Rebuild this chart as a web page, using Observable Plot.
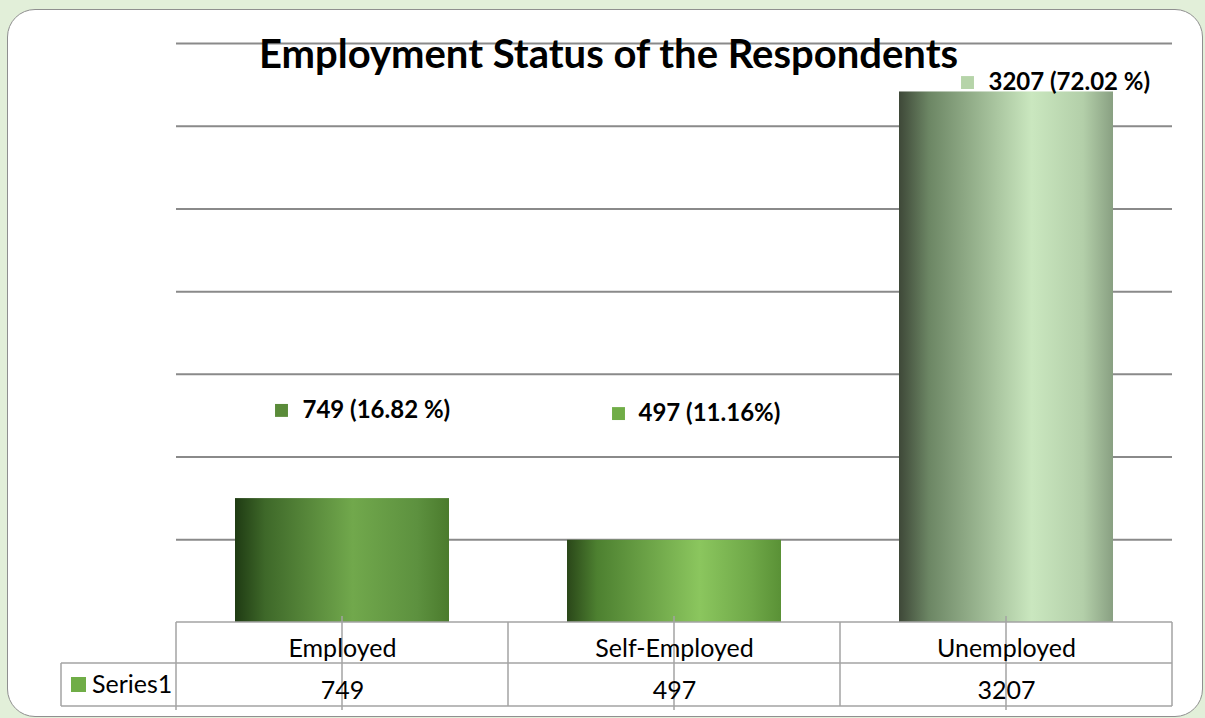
<!DOCTYPE html>
<html><head><meta charset="utf-8">
<script src="https://cdn.jsdelivr.net/npm/d3@7"></script>
<script src="https://cdn.jsdelivr.net/npm/@observablehq/plot@0.6"></script>
<style>
html,body{margin:0;padding:0;background:#e2efd9;width:1205px;height:718px;overflow:hidden;}
#panel{position:absolute;left:7px;top:9px;width:1196px;height:708px;background:#fff;border:1.5px solid #8f8f8f;border-radius:28px;box-sizing:border-box;}
#chart{position:absolute;left:0;top:0;}
</style></head><body><div id="panel"></div><div id="chart"></div>
<script>
const title = "Employment Status of the Respondents";
const categories = ["Employed", "Self-Employed", "Unemployed"];
const counts = [749, 497, 3207];
const percentLabels = ["749 (16.82 %)", "497 (11.16%)", "3207 (72.02 %)"];
const yTicks = [0, 500, 1000, 1500, 2000, 2500, 3000, 3500];
const seriesName = "Series1";

// styles (kept apart from data)
const gradientStops = [
  [["0%","#1f3b13"],["14%","#3e6829"],["55%","#71a84c"],["85%","#5d913f"],["100%","#4b7b2d"]],
  [["0%","#2a4719"],["14%","#4d8030"],["62%","#8bc65e"],["86%","#6fa848"],["100%","#5a9136"]],
  [["0%","#3e4838"],["14%","#6c8664"],["62%","#cae7bf"],["86%","#b3cfa9"],["100%","#89a082"]]
];
const keyColors = ["#5a8b39", "#70ad47", "#b6d4a9"];
const labelLayout = [ // [yValue, square dx, text dx]
  [1282, -61, -40],
  [1263, -56, -36],
  [3264, -39, -18]
];

const rows = categories.map((c, i) => ({category: c, count: counts[i], label: percentLabels[i], i}));
const FONT = "Lato, 'Open Sans', sans-serif";

function defsMark() {
  const g = d3.create("svg:g");
  const defs = g.append("defs");
  gradientStops.forEach((stops, i) => {
    const lg = defs.append("linearGradient").attr("id", "barGrad" + i)
      .attr("x1", "0%").attr("x2", "100%").attr("y1", "0%").attr("y2", "0%");
    stops.forEach(([o, c]) => lg.append("stop").attr("offset", o).attr("stop-color", c));
  });
  return g.node();
}

function tableMark(index, scales, values, dimensions) {
  const {marginLeft, marginRight, width} = dimensions;
  const x = scales.x, y = scales.y;
  const step = (width - marginLeft - marginRight) / categories.length;
  const bw = typeof x.bandwidth === "function" ? x.bandwidth() : step * 0.645;
  const y0 = y(0), r1 = y0 + 41, r2 = y0 + 84;
  const left = marginLeft, right = width - marginRight, legLeft = marginLeft - 115;
  const g = d3.create("svg:g");
  const lines = g.append("g").attr("stroke", "#a3a3a3").attr("stroke-width", 1.5).attr("fill", "none");
  const L = (x1, y1, x2, y2) => lines.append("line").attr("x1", x1).attr("y1", y1).attr("x2", x2).attr("y2", y2);
  L(left, y0, right, y0);
  L(legLeft, r1, right, r1);
  L(legLeft, r2, right, r2);
  L(legLeft, r1, legLeft, r2);
  for (let k = 0; k <= categories.length; k++) {
    const xb = left + k * step;
    L(xb, y0, xb, r2 + (k === 0 ? 4 : 0));
  }
  categories.forEach(c => {
    const xc = x(c) + bw / 2;
    L(xc, y0 - 6, xc, r2 + 4);
  });
  g.append("rect").attr("x", legLeft + 10).attr("y", r1 + 14).attr("width", 15).attr("height", 15).attr("fill", "#70ad47");
  g.append("text").attr("x", legLeft + 31).attr("y", (r1 + r2) / 2).attr("dy", "0.35em")
    .attr("text-anchor", "start")
    .attr("font-family", FONT).attr("font-size", 25).attr("fill", "#000").text(seriesName);
  return g.node();
}

const plot = Plot.plot({
  width: 1205,
  height: 718,
  marginLeft: 176,
  marginRight: 33,
  marginTop: 43,
  marginBottom: 96,
  style: {background: "transparent", fontFamily: FONT},
  x: {domain: categories, paddingInner: 0.355, paddingOuter: 0.1775, axis: null},
  y: {domain: [0, 3500], axis: null},
  marks: [
    defsMark,
    Plot.ruleY(yTicks.filter(v => v > 0), {stroke: "#8a8a8a", strokeWidth: 2, strokeOpacity: 1}),
    ...rows.map(r => Plot.barY([r], {x: "category", y: "count", fill: `url(#barGrad${r.i})`})),
    tableMark,
    Plot.text(rows, {x: "category", y: 0, text: "category", dy: 26, fontSize: 25, fill: "#000"}),
    Plot.text(rows, {x: "category", y: 0, text: d => String(d.count), dy: 68, fontSize: 25, fill: "#000"}),
    ...rows.map(r => Plot.dot([r], {x: "category", y: () => labelLayout[r.i][0], symbol: "square", r: 7.3, fill: keyColors[r.i], stroke: "none", dx: labelLayout[r.i][1]})),
    ...rows.map(r => Plot.text([r], {x: "category", y: () => labelLayout[r.i][0], text: "label", textAnchor: "start", dx: labelLayout[r.i][2], fontSize: 24, fontWeight: "bold", fill: "#000"})),
    Plot.text([title], {frameAnchor: "top", lineAnchor: "middle", dx: -66, dy: 12, fontSize: 40, fontWeight: "bold", fill: "#000"})
  ]
});
document.getElementById("chart").appendChild(plot);
</script>
</body></html>
